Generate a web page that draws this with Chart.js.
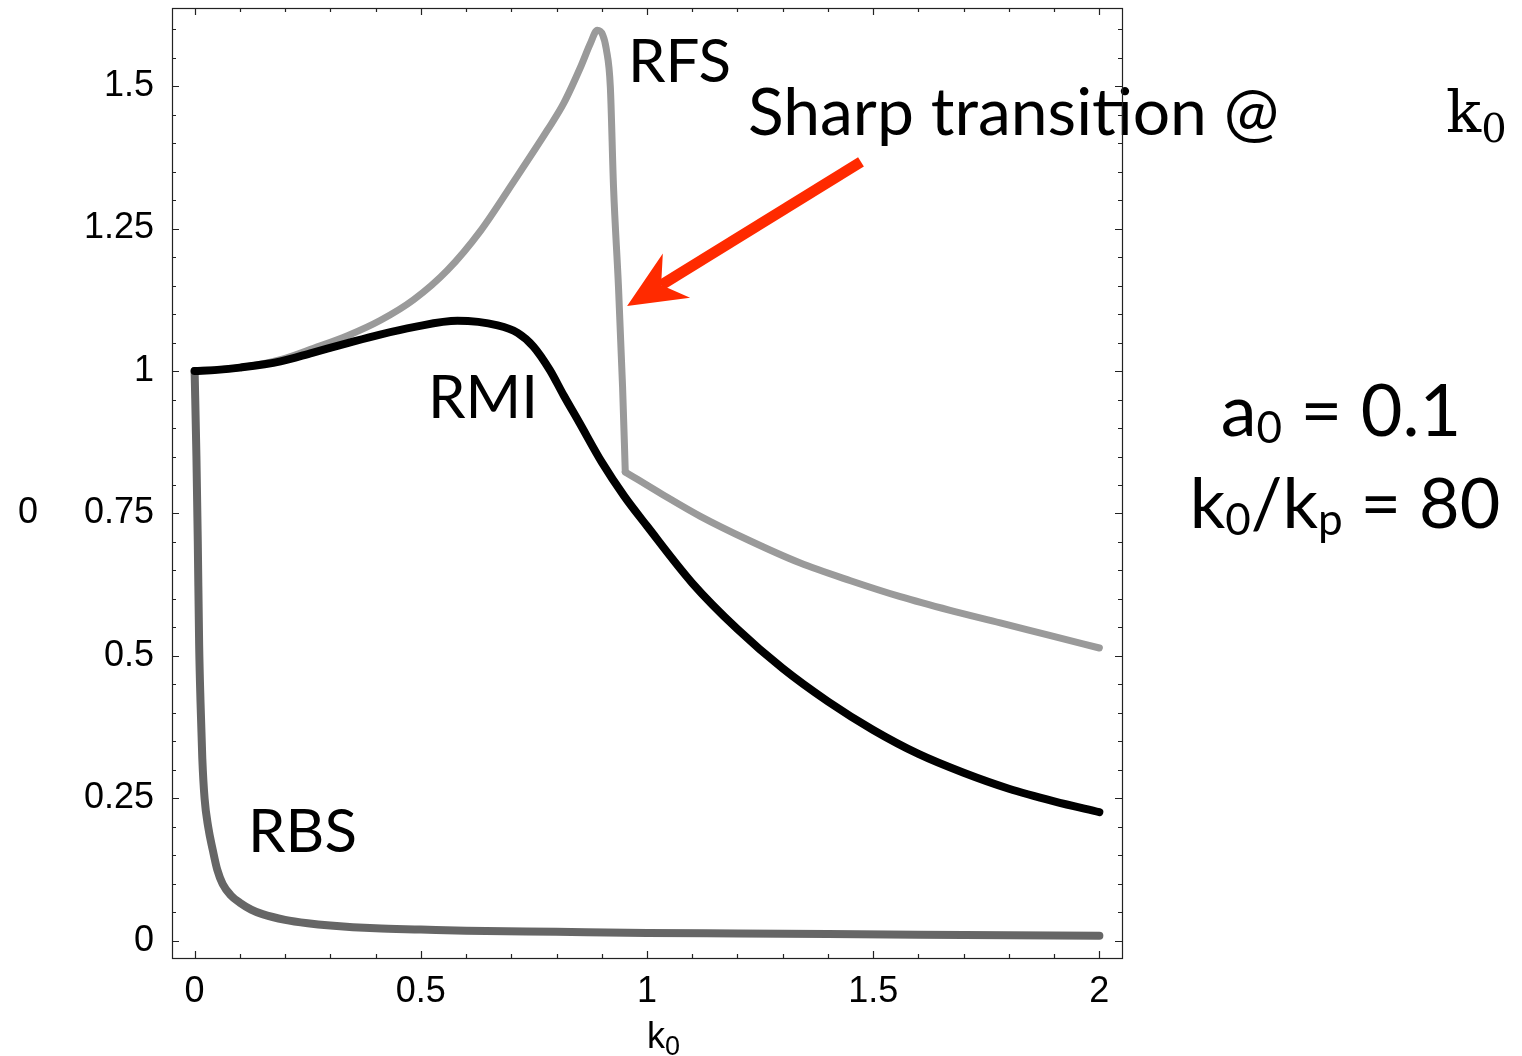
<!DOCTYPE html>
<html lang="en">
<head>
<meta charset="UTF-8">
<title>RBS / RMI / RFS</title>
<style>
  html, body { margin: 0; padding: 0; background: #fff; }
  #wrap { width: 1522px; height: 1056px; }
</style>
</head>
<body>
<div id="wrap"><canvas id="grafico" width="1522" height="1056"></canvas></div>
<script src="https://cdn.jsdelivr.net/npm/chart.js"></script>
<script>
// values (x = k0)
var rmiX = [0, 0.05, 0.1, 0.19, 0.26, 0.338, 0.41, 0.484, 0.581, 0.67, 0.714, 0.749, 0.785, 0.816, 0.85, 0.9, 0.95, 1.0, 1.1, 1.2, 1.3, 1.4, 1.5, 1.6, 1.7, 1.8, 1.9, 2.0];
var rmiY = [1.0, 1.002, 1.006, 1.017, 1.032, 1.049, 1.064, 1.077, 1.088, 1.080, 1.067, 1.043, 1.002, 0.957, 0.91, 0.84, 0.78, 0.728, 0.628, 0.547, 0.478, 0.420, 0.370, 0.328, 0.295, 0.267, 0.245, 0.226];

var rfsX = [0, 0.1, 0.19, 0.263, 0.338, 0.411, 0.484, 0.559, 0.632, 0.705, 0.78, 0.816, 0.853, 0.875, 0.89, 0.902, 0.91, 0.919, 0.926, 0.937, 0.946, 0.952, 1.035, 1.118, 1.225, 1.339, 1.45, 1.56, 1.67, 1.781, 1.89, 2.0];
var rfsY = [1.0, 1.006, 1.02, 1.040, 1.062, 1.089, 1.125, 1.177, 1.246, 1.332, 1.423, 1.470, 1.533, 1.575, 1.598, 1.590, 1.565, 1.498, 1.323, 1.147, 0.972, 0.823, 0.783, 0.745, 0.703, 0.663, 0.632, 0.604, 0.580, 0.558, 0.536, 0.514];
var rfsQuebra = 0.952; // the sharp corner at the end of the drop

var rbsX = [0, 0.004, 0.007, 0.01, 0.013, 0.017, 0.022, 0.03, 0.04, 0.05, 0.062, 0.08, 0.1, 0.125, 0.15, 0.2, 0.25, 0.3, 0.4, 0.5, 0.6, 0.8, 1.0, 1.2, 1.4, 1.6, 1.8, 2.0];
var rbsY = [1.0, 0.85, 0.7, 0.52, 0.42, 0.32, 0.25, 0.2, 0.16, 0.125, 0.10, 0.08, 0.067, 0.055, 0.047, 0.037, 0.031, 0.027, 0.022, 0.02, 0.018, 0.016, 0.014, 0.013, 0.012, 0.011, 0.010, 0.009];

var xTicks = [0, 0.5, 1, 1.5, 2];
var xTickLabels = ['0', '0.5', '1', '1.5', '2'];
var yTicks = [0, 0.25, 0.5, 0.75, 1, 1.25, 1.5];
var yTickLabels = ['0', '0.25', '0.5', '0.75', '1', '1.25', '1.5'];

function pares(xs, ys) {
    var out = [];
    for (var i = 0; i < xs.length; i++) out.push({ x: xs[i], y: ys[i] });
    return out;
}

// RFS is drawn in two pieces so the corner stays sharp
var rfsPontos = pares(rfsX, rfsY);
var iq = rfsX.indexOf(rfsQuebra);
var rfsAntes = rfsPontos.slice(0, iq + 1);
var rfsDepois = rfsPontos.slice(iq);

// draws text made of runs, some of them as subscripts
function escreve(ctx, runs, x, y, align) {
    var total = 0;
    runs.forEach(function (r) { ctx.font = r.font; r.w = ctx.measureText(r.t).width; total += r.w; });
    var cx = align === 'center' ? x - total / 2 : x;
    ctx.textAlign = 'left';
    ctx.textBaseline = 'alphabetic';
    runs.forEach(function (r) {
        ctx.font = r.font;
        ctx.fillText(r.t, cx, y + (r.dy || 0));
        cx += r.w;
    });
}

var moldura = {
    id: 'moldura',
    afterDraw: function (chart) {
        var ctx = chart.ctx;
        var xs = chart.scales.x, ys = chart.scales.y;
        var a = chart.chartArea;
        ctx.save();
        ctx.fillStyle = '#000';

        // labels on curves
        var gill = 'Lato, "Open Sans", sans-serif';
        escreve(ctx, [{ t: 'RFS', font: '60px ' + gill }], 628, 82);
        escreve(ctx, [{ t: 'RMI', font: '60px ' + gill }], 428, 418);
        escreve(ctx, [{ t: 'RBS', font: '60px ' + gill }], 248, 852);
        escreve(ctx, [{ t: 'Sharp transition @', font: '66px ' + gill }], 748, 135);
        escreve(ctx, [
            { t: 'k', font: '58px "DejaVu Serif", serif' },
            { t: '0', font: '40px "DejaVu Serif", serif', dy: 10 }
        ], 1446, 132);
        escreve(ctx, [
            { t: 'a', font: '72px ' + gill },
            { t: '0', font: '44px ' + gill, dy: 7 },
            { t: ' = 0.1', font: '72px ' + gill }
        ], 1341, 436, 'center');
        escreve(ctx, [
            { t: 'k', font: '70px ' + gill },
            { t: '0', font: '44px ' + gill, dy: 7 },
            { t: '/k', font: '70px ' + gill },
            { t: 'p', font: '44px ' + gill, dy: 7 },
            { t: ' = 80', font: '70px ' + gill }
        ], 1345, 528, 'center');

        // axis texts
        escreve(ctx, [{ t: '0', font: '36px "Liberation Sans", Arial, sans-serif' }], 18, 523);
        escreve(ctx, [
            { t: 'k', font: '36px "Liberation Sans", Arial, sans-serif' },
            { t: '0', font: '27px "Liberation Sans", Arial, sans-serif', dy: 7 }
        ], 647, 1048);

        // red arrow
        var tipX = xs.getPixelForValue(0.956), tipY = ys.getPixelForValue(1.114);
        var tailX = xs.getPixelForValue(1.473), tailY = ys.getPixelForValue(1.367);
        var ang = Math.atan2(tailY - tipY, tailX - tipX);
        var ux = Math.cos(ang), uy = Math.sin(ang), nx = -uy, ny = ux;
        var headL = 58, headW = 26, notch = 40;
        ctx.strokeStyle = '#ff2a00';
        ctx.fillStyle = '#ff2a00';
        ctx.lineWidth = 11;
        ctx.lineCap = 'butt';
        ctx.beginPath();
        ctx.moveTo(tipX + ux * notch, tipY + uy * notch);
        ctx.lineTo(tailX, tailY);
        ctx.stroke();
        ctx.beginPath();
        ctx.moveTo(tipX, tipY);
        ctx.lineTo(tipX + ux * headL + nx * headW, tipY + uy * headL + ny * headW);
        ctx.lineTo(tipX + ux * notch, tipY + uy * notch);
        ctx.lineTo(tipX + ux * headL - nx * headW, tipY + uy * headL - ny * headW);
        ctx.closePath();
        ctx.fill();

        // frame and inward ticks on all sides
        ctx.strokeStyle = '#222';
        ctx.lineWidth = 1.2;
        ctx.strokeRect(a.left + 0.5, a.top + 0.5, a.right - a.left, a.bottom - a.top);
        ctx.beginPath();
        for (var i = 0; i <= 20; i++) {
            var v = i / 10;
            var px = Math.round(xs.getPixelForValue(v)) + 0.5;
            var len = (i % 5 === 0) ? 7 : 4;
            ctx.moveTo(px, a.bottom); ctx.lineTo(px, a.bottom - len);
            ctx.moveTo(px, a.top); ctx.lineTo(px, a.top + len);
        }
        for (var j = 0; j <= 32; j++) {
            var w = j * 0.05;
            var py = Math.round(ys.getPixelForValue(w)) + 0.5;
            var ln = (j % 5 === 0) ? 7 : 4;
            ctx.moveTo(a.left, py); ctx.lineTo(a.left + ln, py);
            ctx.moveTo(a.right, py); ctx.lineTo(a.right - ln, py);
        }
        ctx.stroke();
        ctx.restore();
    }
};

var estilo = {
    pointRadius: 0,
    borderCapStyle: 'round',
    borderJoinStyle: 'round',
    cubicInterpolationMode: 'monotone',
    fill: false
};

new Chart(document.getElementById('grafico'), {
    type: 'line',
    data: {
        datasets: [
            Object.assign({ label: 'RMI', data: pares(rmiX, rmiY), borderColor: '#000000', borderWidth: 8 }, estilo),
            Object.assign({ label: 'RFS', data: rfsAntes, borderColor: '#9a9a9a', borderWidth: 7 }, estilo),
            Object.assign({ label: 'RFS', data: rfsDepois, borderColor: '#9a9a9a', borderWidth: 7 }, estilo),
            Object.assign({ label: 'RBS', data: pares(rbsX, rbsY), borderColor: '#666666', borderWidth: 8 }, estilo)
        ]
    },
    options: {
        responsive: false,
        animation: false,
        layout: { padding: { left: 0, top: 8, right: 400, bottom: 0 } },
        plugins: { legend: { display: false }, tooltip: { enabled: false } },
        scales: {
            x: {
                type: 'linear',
                min: -0.05,
                max: 2.05,
                grid: { display: false, drawTicks: false },
                border: { display: false },
                afterBuildTicks: function (s) { s.ticks = xTicks.map(function (v) { return { value: v }; }); },
                afterFit: function (s) { s.height = 98; s.paddingLeft = 0; s.paddingRight = 0; },
                ticks: {
                    padding: 12,
                    color: '#000',
                    font: { family: '"Liberation Sans", Arial, sans-serif', size: 36 },
                    maxRotation: 0,
                    callback: function (v) { return xTickLabels[xTicks.indexOf(v)]; }
                }
            },
            y: {
                type: 'linear',
                min: -0.03,
                max: 1.637,
                grid: { display: false, drawTicks: false },
                border: { display: false },
                afterBuildTicks: function (s) { s.ticks = yTicks.map(function (v) { return { value: v }; }); },
                afterFit: function (s) { s.width = 172; s.paddingTop = 0; s.paddingBottom = 0; },
                ticks: {
                    padding: 18,
                    color: '#000',
                    font: { family: '"Liberation Sans", Arial, sans-serif', size: 36 },
                    callback: function (v) { return yTickLabels[yTicks.indexOf(v)]; }
                }
            }
        }
    },
    plugins: [moldura]
});
</script>
</body>
</html>
